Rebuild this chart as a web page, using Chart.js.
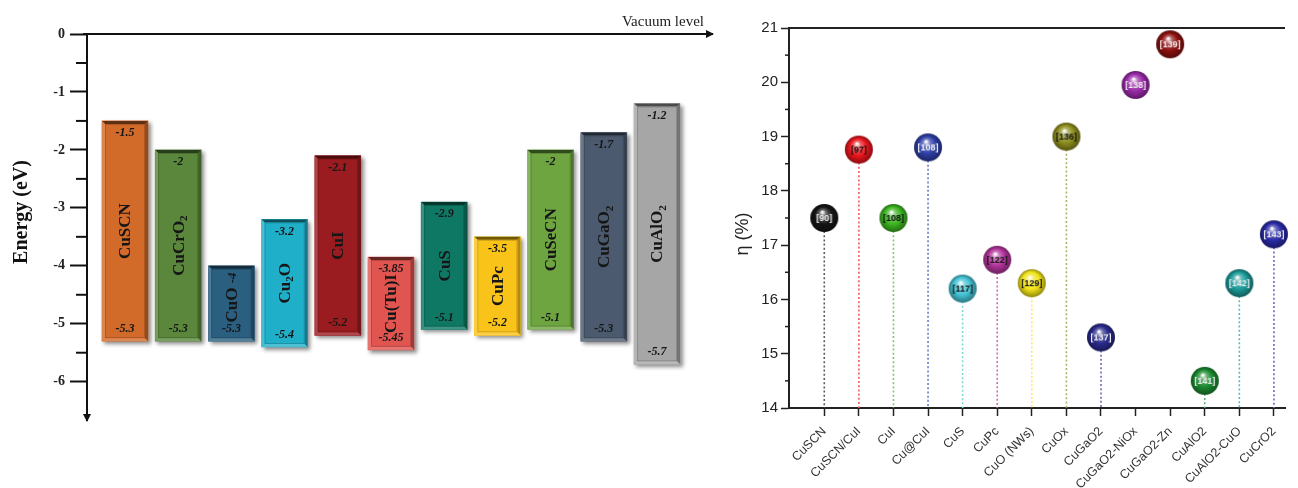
<!DOCTYPE html>
<html><head><meta charset="utf-8">
<script src="https://cdn.jsdelivr.net/npm/chart.js@4"></script>
<style>
html,body{margin:0;padding:0;background:#fff;}
#wrap{position:relative;width:1298px;height:488px;overflow:hidden;background:#fff;}
#c1{position:absolute;left:0;top:0;}
#c2{position:absolute;left:720px;top:0;}
</style></head><body>
<div id="wrap"><canvas id="c1" width="720" height="488"></canvas><canvas id="c2" width="578" height="488"></canvas></div>
<script>
// ---------- Left panel data (energy levels, eV) ----------
const materials   = ['CuSCN','CuCrO2','CuO','Cu2O','CuI','Cu(Tu)I','CuS','CuPc','CuSeCN','CuGaO2','CuAlO2'];
const cbLevels    = [-1.5, -2, -4, -3.2, -2.1, -3.85, -2.9, -3.5, -2, -1.7, -1.2];
const vbLevels    = [-5.3, -5.3, -5.3, -5.4, -5.2, -5.45, -5.1, -5.2, -5.1, -5.3, -5.7];
const energyTicks = [0, -1, -2, -3, -4, -5, -6];

// ---------- Right panel data (efficiency, %) ----------
const htmCategories = ['CuSCN','CuSCN/CuI','CuI','Cu@CuI','CuS','CuPc','CuO (NWs)','CuOx','CuGaO2','CuGaO2-NiOx','CuGaO2-Zn','CuAlO2','CuAlO2-CuO','CuCrO2'];
const etaValues     = [17.5, 18.76, 17.5, 18.8, 16.2, 16.73, 16.3, 19.0, 15.3, 19.95, 20.7, 14.5, 16.3, 17.2];
const refLabels     = ['[90]','[97]','[108]','[108]','[117]','[122]','[129]','[136]','[137]','[138]','[139]','[141]','[142]','[143]'];
const etaTicks      = [14, 15, 16, 17, 18, 19, 20, 21];

// ---------- Styles ----------
const barColors  = ['#d26a2a','#5a873c','#2a5f80','#20afc8','#9b1c20','#e05550','#0f7864','#fac31a','#6ea541','#4b5a6e','#a6a6a6'];
const ballColors = ['#151515','#e8141c','#3cb521','#2e3fa8','#44c4d6','#b2339a','#f2e418','#8e8e1e','#2a2a8c','#9a2aa8','#8e1010','#1a8a30','#1a9a98','#2a2aa6'];
const ballText   = ['#eee','#111','#111','#eee','#111','#111','#111','#111','#eee','#eee','#eee','#eee','#eee','#eee'];
const stemShown  = [true,true,true,true,true,true,true,true,true,false,false,true,true,true];

function hexToRgb(h){h=h.replace('#','');return [parseInt(h.slice(0,2),16),parseInt(h.slice(2,4),16),parseInt(h.slice(4,6),16)];}
function shade(h,f){const c=hexToRgb(h);const r=c.map(v=>Math.round(f<0?v*(1+f):v+(255-v)*f));return 'rgb('+r.join(',')+')';}

function drawSubText(ctx,text,x,y,baseFont,subFont,drop){
  const segs=[];
  for(const ch of text){const sub=/[0-9]/.test(ch);if(segs.length&&segs[segs.length-1].sub===sub)segs[segs.length-1].t+=ch;else segs.push({t:ch,sub});}
  let total=0;segs.forEach(s=>{ctx.font=s.sub?subFont:baseFont;s.w=ctx.measureText(s.t).width;total+=s.w;});
  let cx=x-total/2;ctx.textAlign='left';
  segs.forEach(s=>{ctx.font=s.sub?subFont:baseFont;ctx.fillText(s.t,cx,y+(s.sub?drop:0));cx+=s.w;});
  return total;
}

// ---------- Left chart ----------
const SERIF='"Liberation Serif", "Times New Roman", serif';
const SANS='"Liberation Sans", Arial, sans-serif';

const leftPlugin={
  id:'leftDeco',
  beforeDatasetsDraw(chart){const ctx=chart.ctx;ctx.save();ctx.shadowColor='rgba(0,0,0,0.45)';ctx.shadowBlur=4;ctx.shadowOffsetX=2.5;ctx.shadowOffsetY=2.5;},
  afterDatasetsDraw(chart){
    const ctx=chart.ctx;ctx.restore();
    const meta=chart.getDatasetMeta(0);
    meta.data.forEach((el,i)=>{
      const p=el.getProps(['x','y','base','width'],true);
      const l=p.x-p.width/2,r=p.x+p.width/2,t=Math.min(p.y,p.base),b=Math.max(p.y,p.base);
      const col=barColors[i],e=3;
      const poly=(pts,fs)=>{ctx.beginPath();ctx.moveTo(pts[0][0],pts[0][1]);pts.slice(1).forEach(q=>ctx.lineTo(q[0],q[1]));ctx.closePath();ctx.fillStyle=fs;ctx.fill();};
      poly([[l,t],[r,t],[r-e,t+e],[l+e,t+e]],shade(col,-0.55));
      poly([[r,t],[r,b],[r-e,b-e],[r-e,t+e]],shade(col,-0.3));
      poly([[l,b],[r,b],[r-e,b-e],[l+e,b-e]],shade(col,0.2));
      poly([[l,t],[l+e,t+e],[l+e,b-e],[l,b]],shade(col,0.18));
      ctx.strokeStyle=shade(col,-0.2);ctx.lineWidth=0.8;ctx.strokeRect(l+e+0.5,t+e+0.5,r-l-2*e-1,b-t-2*e-1);
      ctx.fillStyle='#161616';ctx.textBaseline='middle';ctx.textAlign='center';
      const topStr=String(cbLevels[i]),botStr=String(vbLevels[i]);
      ctx.font='italic bold 12px '+SERIF;
      ctx.fillText(botStr,p.x,b-12);
      const mid=(t+b)/2;
      if(b-t<85){
        ctx.save();ctx.translate(p.x+1,mid-6);ctx.rotate(-Math.PI/2);
        ctx.font='bold 17px '+SERIF;const w1=ctx.measureText(materials[i]+' ').width;
        ctx.font='italic bold 13px '+SERIF;const w2=ctx.measureText(topStr).width;
        let sx=-(w1+w2)/2;ctx.textAlign='left';
        ctx.font='bold 17px '+SERIF;ctx.fillText(materials[i],sx,0);
        ctx.font='italic bold 13px '+SERIF;ctx.fillText(topStr,sx+w1,0);
        ctx.restore();
      }else{
        ctx.fillText(topStr,p.x,t+12);
        ctx.save();ctx.translate(p.x+1,mid);ctx.rotate(-Math.PI/2);
        drawSubText(ctx,materials[i],0,0,'bold 17px '+SERIF,'bold 11px '+SERIF,5);
        ctx.restore();
      }
    });
  },
  afterDraw(chart){
    const ctx=chart.ctx,ca=chart.chartArea,ys=chart.scales.y;
    ctx.save();
    ctx.strokeStyle='#111';ctx.lineWidth=2;
    for(let v=-0.5;v>-6;v-=1){const yy=ys.getPixelForValue(v);ctx.beginPath();ctx.moveTo(ca.left-11,yy);ctx.lineTo(ca.left,yy);ctx.stroke();}
    ctx.beginPath();ctx.moveTo(ca.left-4,ca.top);ctx.lineTo(ca.left,ca.top);ctx.stroke();
    ctx.fillStyle='#111';
    ctx.beginPath();ctx.moveTo(ca.right+2,ca.top);ctx.lineTo(ca.right-6,ca.top-4);ctx.lineTo(ca.right-6,ca.top+4);ctx.closePath();ctx.fill();
    ctx.beginPath();ctx.moveTo(ca.left,ca.bottom+2);ctx.lineTo(ca.left-4,ca.bottom-6);ctx.lineTo(ca.left+4,ca.bottom-6);ctx.closePath();ctx.fill();
    ctx.fillStyle='#222';ctx.font='15px '+SERIF;ctx.textAlign='right';ctx.textBaseline='middle';
    ctx.fillText('Vacuum level',ca.right-8,ca.top-12);
    ctx.translate(22,212);ctx.rotate(-Math.PI/2);ctx.textAlign='center';ctx.fillStyle='#111';ctx.font='bold 20px '+SERIF;
    ctx.fillText('Energy (eV)',0,0);
    ctx.restore();
  }
};

new Chart(document.getElementById('c1'),{
  type:'bar',
  data:{datasets:[{
    data:materials.map((m,i)=>({x:i,y:[vbLevels[i],cbLevels[i]]})),
    backgroundColor:barColors,borderWidth:0,borderSkipped:false,barThickness:46
  }]},
  options:{
    responsive:false,animation:false,devicePixelRatio:1,
    layout:{padding:{top:0,right:8,bottom:68,left:0}},
    plugins:{legend:{display:false},tooltip:{enabled:false}},
    scales:{
      x:{type:'linear',position:'top',min:-0.714,max:11.034,offset:false,
         grid:{display:false,drawTicks:false,offset:false},ticks:{display:false},
         border:{display:true,color:'#111',width:2},
         afterFit:s=>{s.height=34;}},
      y:{type:'linear',min:-6.661,max:0,
         afterBuildTicks:s=>{s.ticks=energyTicks.map(v=>({value:v}));},
         ticks:{font:{family:SERIF,size:14,weight:'bold'},color:'#222',padding:5},
         grid:{display:true,drawOnChartArea:false,drawTicks:true,tickLength:17,tickWidth:2,tickColor:'#111'},
         border:{display:true,color:'#111',width:2},
         afterFit:s=>{s.width=87;}}
    }
  },
  plugins:[leftPlugin]
});

// ---------- Right chart ----------
function makeBall(i){
  const c=document.createElement('canvas');c.width=30;c.height=30;
  const g=c.getContext('2d'),col=ballColors[i],R=14;
  const grd=g.createRadialGradient(13,9,0.5,15,15,R);
  grd.addColorStop(0,'rgba(255,255,255,0.95)');
  grd.addColorStop(0.22,shade(col,0.35));
  grd.addColorStop(0.6,col);
  grd.addColorStop(1,shade(col,-0.4));
  g.beginPath();g.arc(15,15,R,0,Math.PI*2);g.fillStyle=grd;g.fill();
  g.fillStyle=ballText[i];g.font='bold 9px '+SANS;g.textAlign='center';g.textBaseline='middle';
  g.fillText(refLabels[i],15,15.5);
  return c;
}
const balls=htmCategories.map((_,i)=>makeBall(i));

const rightPlugin={
  id:'rightDeco',
  beforeDatasetsDraw(chart){
    const ctx=chart.ctx,ys=chart.scales.y,meta=chart.getDatasetMeta(0);
    ctx.save();ctx.setLineDash([2,2.2]);ctx.lineWidth=1.6;
    meta.data.forEach((el,i)=>{
      if(!stemShown[i])return;
      ctx.strokeStyle=shade(ballColors[i],0.3);
      ctx.beginPath();ctx.moveTo(el.x,el.y+13);ctx.lineTo(el.x,ys.getPixelForValue(14));ctx.stroke();
    });
    ctx.restore();
  },
  afterDraw(chart){
    const ctx=chart.ctx,ca=chart.chartArea,ys=chart.scales.y;
    ctx.save();ctx.strokeStyle='#222';ctx.lineWidth=1.5;
    for(let v=14.5;v<21;v+=1){const yy=ys.getPixelForValue(v);ctx.beginPath();ctx.moveTo(ca.left-4,yy);ctx.lineTo(ca.left,yy);ctx.stroke();}
    ctx.lineWidth=2;ctx.beginPath();ctx.moveTo(ca.left,ca.top);ctx.lineTo(ca.right,ca.top);ctx.stroke();
    ctx.fillStyle='#222';ctx.font='18px '+SANS;ctx.textAlign='center';ctx.textBaseline='middle';
    ctx.translate(23,234);ctx.rotate(-Math.PI/2);ctx.fillText('η (%)',0,0);
    ctx.restore();
  }
};

new Chart(document.getElementById('c2'),{
  type:'scatter',
  data:{datasets:[{
    data:htmCategories.map((c,i)=>({x:i,y:etaValues[i]})),
    pointStyle:balls,pointRadius:13,backgroundColor:ballColors,borderWidth:0,clip:false
  }]},
  options:{
    responsive:false,animation:false,devicePixelRatio:1,
    layout:{padding:{top:28,right:0,bottom:0,left:0}},
    plugins:{legend:{display:false},tooltip:{enabled:false}},
    scales:{
      x:{type:'linear',min:-1.02,max:13.32,
         afterBuildTicks:s=>{s.ticks=htmCategories.map((_,i)=>({value:i}));},
         ticks:{autoSkip:false,maxRotation:45,minRotation:45,padding:8,color:'#333',font:{family:SANS,size:12.5},
                callback:v=>htmCategories[v]},
         grid:{display:true,drawOnChartArea:false,drawTicks:true,tickLength:8,tickWidth:1.5,tickColor:'#222'},
         border:{display:true,color:'#222',width:2},
         afterFit:s=>{s.height=80;}},
      y:{type:'linear',min:14,max:21,
         afterBuildTicks:s=>{s.ticks=etaTicks.map(v=>({value:v}));},
         ticks:{font:{family:SANS,size:15},color:'#222',padding:3},
         grid:{display:true,drawOnChartArea:false,drawTicks:true,tickLength:8,tickWidth:1.5,tickColor:'#222'},
         border:{display:true,color:'#222',width:2},
         afterFit:s=>{s.width=69;}}
    }
  },
  plugins:[rightPlugin]
});
</script>
</body></html>
